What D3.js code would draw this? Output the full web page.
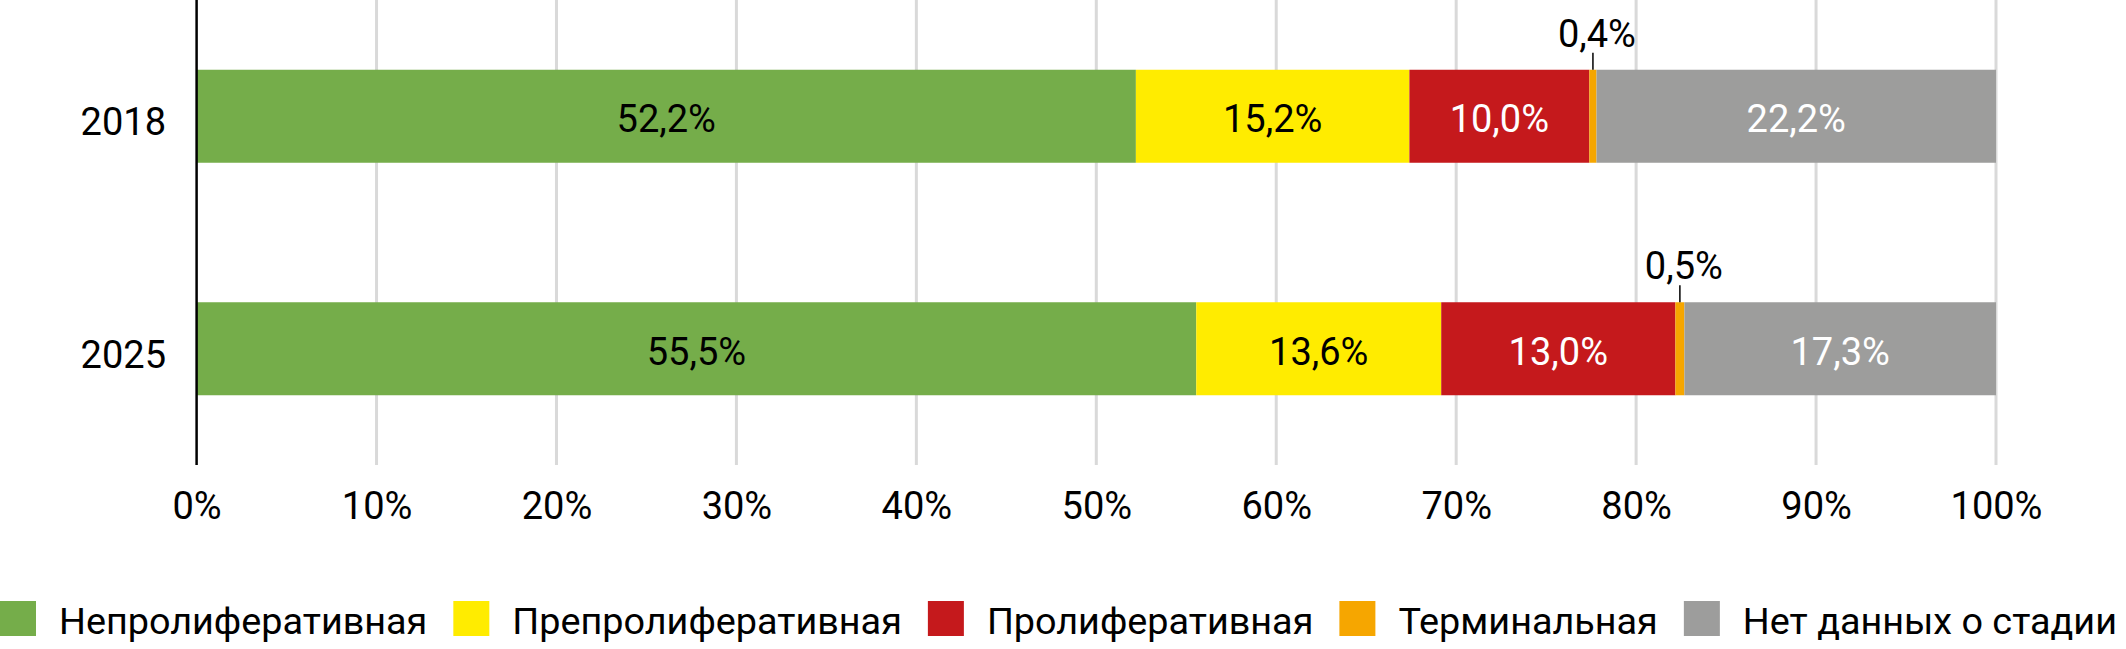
<!DOCTYPE html>
<html lang="ru">
<head>
<meta charset="utf-8">
<title>Стадии ретинопатии, 2018 и 2025</title>
<script src="https://cdn.jsdelivr.net/npm/d3@7"></script>
<style>
  html, body { margin: 0; padding: 0; background: #fff; }
  svg { display: block; font-family: 'Myriad Pro', Roboto, 'Noto Sans', sans-serif; }
</style>
</head>
<body>
<svg id="chart" width="2126" height="649"></svg>
<script>
// ============================================================
// Распределение по стадиям — 100% stacked bars (D3 v7)
// ============================================================

const YEARS  = ['2018', '2025'];
const STAGES = ['Непролиферативная', 'Препролиферативная', 'Пролиферативная', 'Терминальная', 'Нет данных о стадии'];
const COLORS = ['#75ad4a', '#ffec00', '#c5191c', '#f6a600', '#9d9d9c'];
// подписи внутри сегмента: белые на тёмном фоне
const LABEL_FILL = ['#000', '#000', '#fff', '#000', '#fff'];

// значения (%) по годам, порядок как в STAGES
const VALUES_2018 = [52.2, 15.2, 10.0, 0.4, 22.2];
const VALUES_2025 = [55.5, 13.6, 13.0, 0.5, 17.3];

const X_TICKS = [0, 0.1, 0.2, 0.3, 0.4, 0.5, 0.6, 0.7, 0.8, 0.9, 1.0];

// сегменты уже чем это — подпись выносится над столбцом
const SMALL_SEGMENT = 2;

const fmt = v => v.toFixed(1).replace('.', ',') + '%';

const rows = YEARS.map((y, i) => {
  const vals = [VALUES_2018, VALUES_2025][i];
  const r = { year: y };
  STAGES.forEach((s, j) => r[s] = vals[j]);
  return r;
});

const W = 2126;
const svg = d3.select('#chart');

const plot = { left: 196.6, right: 1996, top: 0, bottom: 465 };

const x = d3.scaleLinear().domain([0, 1]).range([plot.left, plot.right]);
const y = d3.scaleBand().domain(YEARS).range([plot.top, plot.bottom])
  .paddingInner(0.6).paddingOuter(0.3);
const color = d3.scaleOrdinal().domain(STAGES).range(COLORS);

const series = d3.stack().keys(STAGES).offset(d3.stackOffsetExpand)(rows);

// вертикальная сетка
svg.append('g')
  .selectAll('line')
  .data(X_TICKS.slice(1))
  .join('line')
  .attr('x1', d => x(d)).attr('x2', d => x(d))
  .attr('y1', plot.top).attr('y2', plot.bottom)
  .attr('stroke', '#d9d9d9')
  .attr('stroke-width', 3);

// столбцы
svg.append('g')
  .selectAll('g')
  .data(series)
  .join('g')
  .attr('fill', d => color(d.key))
  .selectAll('rect')
  .data(d => d)
  .join('rect')
  .attr('x', d => x(d[0]))
  .attr('y', d => y(d.data.year))
  .attr('width', d => x(d[1]) - x(d[0]))
  .attr('height', y.bandwidth());

// подписи значений
const labels = svg.append('g').attr('font-size', 38);
series.forEach((s, j) => {
  s.forEach(d => {
    const v = d.data[s.key];
    const cx = (x(d[0]) + x(d[1])) / 2;
    const top = y(d.data.year);
    if (v < SMALL_SEGMENT) {
      // выноска над узким сегментом
      labels.append('line')
        .attr('x1', cx).attr('x2', cx)
        .attr('y1', top - 17).attr('y2', top)
        .attr('stroke', '#000').attr('stroke-width', 1.5);
      labels.append('text')
        .attr('x', cx + 4).attr('y', top - 23)
        .attr('text-anchor', 'middle')
        .attr('fill', '#000')
        .text(fmt(v));
    } else {
      labels.append('text')
        .attr('x', cx).attr('y', top + y.bandwidth() / 2 + 16)
        .attr('text-anchor', 'middle')
        .attr('fill', LABEL_FILL[j])
        .text(fmt(v));
    }
  });
});

// ось Y (линия) и годы
svg.append('line')
  .attr('x1', x(0)).attr('x2', x(0))
  .attr('y1', plot.top).attr('y2', plot.bottom)
  .attr('stroke', '#000').attr('stroke-width', 2.5);

svg.append('g')
  .selectAll('text')
  .data(YEARS)
  .join('text')
  .attr('x', 166)
  .attr('y', d => y(d) + y.bandwidth() / 2 + 19)
  .attr('text-anchor', 'end')
  .attr('font-size', 38)
  .text(d => d);

// ось X: подписи процентов
const xAxis = svg.append('g')
  .attr('transform', `translate(0,${plot.bottom})`)
  .call(d3.axisBottom(x).tickValues(X_TICKS).tickFormat(d3.format('.0%')).tickSize(0).tickPadding(0));
xAxis.select('.domain').remove();
xAxis.attr('font-family', null).attr('font-size', null);
xAxis.selectAll('text')
  .attr('dy', null)
  .attr('y', 54)
  .attr('font-size', 38)
  .attr('fill', '#000');

// легенда — в одну строку, шрифт подгоняется под ширину
const SW = 36, SH = 35, GAP_TEXT = 23, GAP_ITEM = 26;
const legend = svg.append('g').attr('transform', 'translate(0,601)');
const items = legend.selectAll('g')
  .data(STAGES)
  .join('g');
items.append('rect').attr('width', SW).attr('height', SH).attr('fill', (d, j) => COLORS[j]);
const ltext = items.append('text')
  .attr('x', SW + GAP_TEXT).attr('y', 33)
  .attr('font-size', 41)
  .text(d => d);

let textSum = 0;
ltext.each(function () { textSum += this.getComputedTextLength(); });
const fixed = STAGES.length * (SW + GAP_TEXT) + (STAGES.length - 1) * GAP_ITEM;
const k = Math.min(1, (W - 8 - fixed) / textSum);
ltext.attr('font-size', 41 * k);

let lx = 0;
items.each(function () {
  const g = d3.select(this);
  g.attr('transform', `translate(${lx},0)`);
  lx += SW + GAP_TEXT + g.select('text').node().getComputedTextLength() + GAP_ITEM;
});
</script>
</body>
</html>
